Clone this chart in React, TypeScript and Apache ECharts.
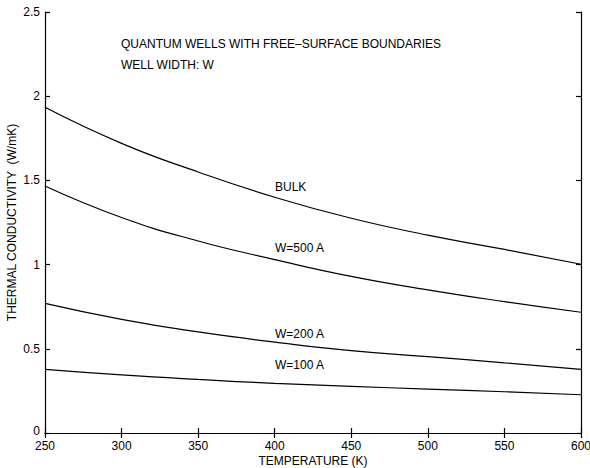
import React, { useEffect, useRef } from "react";
import * as echarts from "echarts";

const temperatures = [250, 300, 350, 400, 450, 500, 550, 600];
const bulk = [1.934, 1.72, 1.55, 1.40, 1.275, 1.175, 1.09, 1.002];
const w500 = [1.467, 1.28, 1.14, 1.03, 0.93, 0.85, 0.78, 0.717];
const w200 = [0.77, 0.675, 0.6, 0.54, 0.489, 0.453, 0.417, 0.378];
const w100 = [0.378, 0.345, 0.318, 0.295, 0.277, 0.261, 0.245, 0.227];

const seriesList = [
  { name: "BULK", values: bulk },
  { name: "W=500 A", values: w500 },
  { name: "W=200 A", values: w200 },
  { name: "W=100 A", values: w100 },
];

const FONT = "Liberation Sans, Arial, Helvetica, sans-serif";

export default function App() {
  const ref = useRef<HTMLDivElement>(null);
  useEffect(() => {
    document.body.style.margin = "0";
    if (!ref.current) return;
    const chart = echarts.init(ref.current, undefined, { renderer: "svg" });
    const axisLine = { show: true, lineStyle: { color: "#000", width: 1.2 } };
    const tick = { show: true, inside: true, length: 5, lineStyle: { color: "#000", width: 1.2 } };
    const labelStyle = { color: "#000", fontFamily: FONT, fontSize: 12 };
    const textStyle = { fill: "#000", font: `12px ${FONT}` };
    chart.setOption({
      animation: false,
      backgroundColor: "#fff",
      grid: { left: 45, right: 9, top: 12, bottom: 35, show: false, containLabel: false, outerBoundsMode: "none" },
      xAxis: [
        {
          type: "value",
          min: 250,
          max: 600,
          interval: 50,
          position: "bottom",
          axisLine,
          axisTick: tick,
          splitLine: { show: false },
          axisLabel: { ...labelStyle, margin: 7, lineHeight: 11 },
          name: "TEMPERATURE (K)",
          nameLocation: "middle",
          nameGap: 22,
          nameMoveOverlap: false,
          nameTextStyle: { ...labelStyle },
        },
        {
          type: "value",
          min: 250,
          max: 600,
          interval: 50,
          position: "top",
          axisLine,
          axisTick: tick,
          splitLine: { show: false },
          axisLabel: { show: false },
        },
      ],
      yAxis: [
        {
          type: "value",
          min: 0,
          max: 2.5,
          interval: 0.5,
          position: "left",
          axisLine,
          axisTick: tick,
          splitLine: { show: false },
          axisLabel: {
            ...labelStyle,
            margin: 5,
            lineHeight: 9,
            formatter: (v: number) => (v === 0 ? "{z|0}" : String(v)),
            rich: { z: { color: "#000", fontFamily: FONT, fontSize: 12, lineHeight: 9, padding: [0, 0, 4, 0] } },
          },
          name: "THERMAL CONDUCTIVITY  (W/mK)",
          nameLocation: "middle",
          nameGap: 27,
          nameMoveOverlap: false,
          nameTextStyle: { ...labelStyle },
        },
        {
          type: "value",
          min: 0,
          max: 2.5,
          interval: 0.5,
          position: "right",
          axisLine,
          axisTick: tick,
          splitLine: { show: false },
          axisLabel: { show: false },
        },
      ],
      series: seriesList.map((s) => ({
        type: "line",
        name: s.name,
        data: temperatures.map((t, i) => [t, s.values[i]]),
        smooth: true,
        showSymbol: false,
        lineStyle: { color: "#000", width: 1.2 },
        xAxisIndex: 0,
        yAxisIndex: 0,
      })),
      graphic: [
        { type: "text", left: 121, top: 38, style: { ...textStyle, text: "QUANTUM WELLS WITH FREE–SURFACE BOUNDARIES" } },
        { type: "text", left: 121, top: 59, style: { ...textStyle, text: "WELL WIDTH: W" } },
        { type: "text", left: 275, top: 181, style: { ...textStyle, text: "BULK" } },
        { type: "text", left: 275, top: 242, style: { ...textStyle, text: "W=500 A" } },
        { type: "text", left: 275, top: 328, style: { ...textStyle, text: "W=200 A" } },
        { type: "text", left: 275, top: 359, style: { ...textStyle, text: "W=100 A" } },
      ],
    });
    return () => chart.dispose();
  }, []);
  return <div ref={ref} style={{ width: 590, height: 468 }} />;
}
